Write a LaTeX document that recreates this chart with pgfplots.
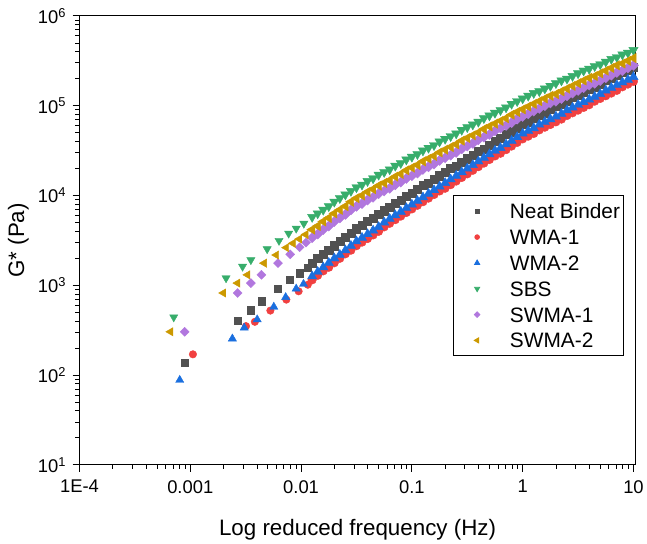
\documentclass[border=0pt]{standalone}
\usepackage{fontspec}
\setmainfont{Liberation Sans}
\usepackage{pgfplots}
\usepackage{pgfplotstable}
\pgfplotsset{compat=1.18}

\definecolor{cNeat}{HTML}{515151}
\definecolor{cWa}{HTML}{F14040}
\definecolor{cWb}{HTML}{1A6FDF}
\definecolor{cSbs}{HTML}{37AD6B}
\definecolor{cSa}{HTML}{B177DE}
\definecolor{cSb}{HTML}{CC9900}

% log10(reduced frequency, Hz) and log10(G*, Pa), dense part of the master curves
\pgfplotstableread{
lf     ne    wa    wb    sbs   sa    sb
-1.90  3.25  3.06  3.10  3.76  3.53  3.62
-1.85  3.30  3.11  3.15  3.80  3.57  3.66
-1.80  3.35  3.16  3.20  3.84  3.62  3.71
-1.75  3.39  3.20  3.25  3.88  3.66  3.75
-1.70  3.44  3.25  3.30  3.93  3.71  3.80
-1.65  3.49  3.30  3.34  3.97  3.75  3.84
-1.60  3.54  3.35  3.39  4.01  3.79  3.88
-1.55  3.58  3.39  3.44  4.05  3.84  3.93
-1.50  3.63  3.44  3.49  4.09  3.88  3.97
-1.45  3.67  3.48  3.53  4.12  3.91  4.00
-1.40  3.71  3.52  3.57  4.16  3.95  4.04
-1.35  3.75  3.56  3.61  4.19  3.98  4.07
-1.30  3.79  3.60  3.65  4.23  4.02  4.11
-1.25  3.83  3.65  3.70  4.26  4.05  4.14
-1.20  3.87  3.69  3.74  4.29  4.08  4.17
-1.15  3.91  3.73  3.78  4.33  4.12  4.21
-1.10  3.95  3.77  3.82  4.36  4.15  4.24
-1.05  3.99  3.81  3.86  4.40  4.19  4.28
-1.00  4.03  3.85  3.90  4.43  4.22  4.31
-0.95  4.07  3.89  3.94  4.46  4.25  4.34
-0.90  4.11  3.93  3.98  4.50  4.29  4.38
-0.85  4.14  3.97  4.02  4.53  4.32  4.41
-0.80  4.18  4.01  4.06  4.56  4.35  4.44
-0.75  4.22  4.05  4.10  4.60  4.39  4.48
-0.70  4.26  4.08  4.14  4.63  4.42  4.51
-0.65  4.30  4.12  4.18  4.66  4.45  4.54
-0.60  4.33  4.16  4.22  4.69  4.48  4.57
-0.55  4.37  4.20  4.26  4.73  4.52  4.61
-0.50  4.41  4.24  4.30  4.76  4.55  4.64
-0.45  4.45  4.28  4.34  4.79  4.58  4.67
-0.40  4.49  4.32  4.38  4.82  4.62  4.70
-0.35  4.52  4.36  4.42  4.86  4.65  4.74
-0.30  4.56  4.40  4.46  4.89  4.68  4.77
-0.25  4.60  4.44  4.50  4.92  4.72  4.80
-0.20  4.64  4.47  4.53  4.95  4.75  4.83
-0.15  4.68  4.51  4.57  4.98  4.78  4.86
-0.10  4.71  4.55  4.61  5.02  4.81  4.90
-0.05  4.75  4.59  4.65  5.05  4.85  4.93
 0.00  4.79  4.63  4.69  5.08  4.88  4.96
 0.05  4.82  4.66  4.72  5.11  4.91  4.99
 0.10  4.86  4.69  4.75  5.14  4.94  5.02
 0.15  4.89  4.73  4.79  5.16  4.97  5.05
 0.20  4.92  4.76  4.82  5.19  5.00  5.08
 0.25  4.96  4.79  4.85  5.22  5.03  5.11
 0.30  4.99  4.82  4.88  5.25  5.05  5.13
 0.35  5.02  4.85  4.91  5.28  5.08  5.16
 0.40  5.05  4.89  4.95  5.30  5.11  5.19
 0.45  5.09  4.92  4.98  5.33  5.14  5.22
 0.50  5.12  4.95  5.01  5.36  5.17  5.25
 0.55  5.15  4.98  5.04  5.39  5.20  5.28
 0.60  5.18  5.01  5.07  5.41  5.23  5.31
 0.65  5.21  5.05  5.10  5.44  5.25  5.33
 0.70  5.24  5.08  5.13  5.46  5.28  5.36
 0.75  5.28  5.11  5.17  5.49  5.31  5.39
 0.80  5.31  5.14  5.20  5.52  5.34  5.42
 0.85  5.34  5.17  5.23  5.54  5.37  5.45
 0.90  5.37  5.21  5.26  5.57  5.39  5.47
 0.95  5.40  5.24  5.29  5.59  5.42  5.50
 1.00  5.43  5.27  5.32  5.62  5.45  5.53
}\dense

\begin{document}
\begin{tikzpicture}
\begin{axis}[
  width=560pt, height=452pt, scale only axis,
  xmin=-4, xmax=1.02, ymin=1, ymax=6,
  axis line style={line width=1pt},
  tick align=outside, xtick pos=bottom, ytick pos=left,
  major tick length=7pt, minor tick length=4pt,
  tick style={line width=0.8pt, black},
  xtick={-4,...,1}, xticklabels={1E-4,0.001,0.01,0.1,1,10},
  ytick={1,...,6},
  yticklabels={10\textsuperscript{1},10\textsuperscript{2},10\textsuperscript{3},10\textsuperscript{4},10\textsuperscript{5},10\textsuperscript{6}},
  minor xtick={-3.699,-3.523,-3.398,-3.301,-3.222,-3.155,-3.097,-3.046,
               -2.699,-2.523,-2.398,-2.301,-2.222,-2.155,-2.097,-2.046,
               -1.699,-1.523,-1.398,-1.301,-1.222,-1.155,-1.097,-1.046,
               -0.699,-0.523,-0.398,-0.301,-0.222,-0.155,-0.097,-0.046,
               0.301,0.477,0.602,0.699,0.778,0.845,0.903,0.954},
  minor ytick={1.301,1.477,1.602,1.699,1.778,1.845,1.903,1.954,
               2.301,2.477,2.602,2.699,2.778,2.845,2.903,2.954,
               3.301,3.477,3.602,3.699,3.778,3.845,3.903,3.954,
               4.301,4.477,4.602,4.699,4.778,4.845,4.903,4.954,
               5.301,5.477,5.602,5.699,5.778,5.845,5.903,5.954},
  ticklabel style={font=\fontsize{18.5}{22}\selectfont},
  xticklabel style={yshift=-5pt},
  yticklabel style={xshift=-3pt},
  xlabel={Log reduced frequency (Hz)},
  ylabel={G* (Pa)},
  label style={font=\fontsize{22.5}{27}\selectfont},
  xlabel style={at={(axis description cs:0.5,-0.145)}, anchor=center},
  ylabel style={at={(axis description cs:-0.11,0.5)}, anchor=center},
  legend style={at={(rel axis cs:0.978,0.600)}, anchor=north east,
    draw=black, line width=0.8pt, font=\fontsize{21}{25}\selectfont,
    inner xsep=3pt, inner ysep=6pt, row sep=7pt,
    nodes={inner sep=0pt, text height=17pt, text depth=2pt}},
  legend cell align=left,
  legend image code/.code={\path[draw=none, fill=none] (0pt,0pt) -- (54pt,0pt);
    \draw[#1, only marks] plot coordinates {(21pt,0pt)};},
  legend image post style={every mark/.append style={scale=0.55}},
]
\coordinate (bl) at (rel axis cs:0,0);

\addplot[only marks, mark=square*, color=cNeat, mark size=3.6pt, forget plot] coordinates {
(-3.050,2.139) (-2.573,2.607) (-2.456,2.722) (-2.358,2.822) (-2.208,2.958)
(-2.103,3.061) (-2.013,3.135) (-1.939,3.198)};
\addplot[only marks, mark=square*, color=cNeat, mark size=4.1pt] table[x=lf,y=ne]{\dense};
\addlegendentry{Neat Binder}

\addplot[only marks, mark=*, color=cWa, mark size=3.8pt, forget plot] coordinates {
(-2.976,2.231) (-2.497,2.545) (-2.417,2.593) (-2.277,2.718) (-2.133,2.840)
(-2.022,2.933) (-1.939,3.006)};
\addplot[only marks, mark=*, color=cWa, mark size=4.3pt] table[x=lf,y=wa]{\dense};
\addlegendentry{WMA-1}

\addplot[only marks, mark=triangle*, color=cWb, mark size=4.8pt, forget plot] coordinates {
(-3.095,1.944) (-2.620,2.405) (-2.513,2.527) (-2.396,2.618) (-2.246,2.759)
(-2.139,2.866) (-2.044,2.961) (-1.978,3.013)};
\addplot[only marks, mark=triangle*, color=cWb, mark size=5.4pt] table[x=lf,y=wb]{\dense};
\addlegendentry{WMA-2}

\addplot[only marks, mark=triangle*, mark options={rotate=180}, color=cSbs, mark size=4.8pt, forget plot] coordinates {
(-3.149,2.645) (-2.677,3.080) (-2.528,3.209) (-2.453,3.282) (-2.306,3.404)
(-2.199,3.497) (-2.112,3.577) (-2.044,3.633) (-1.975,3.688)};
\addplot[only marks, mark=triangle*, mark options={rotate=180}, color=cSbs, mark size=5.4pt] table[x=lf,y=sbs]{\dense};
\addlegendentry{SBS}

\addplot[only marks, mark=square*, mark options={rotate=45}, color=cSa, mark size=3.2pt, forget plot] coordinates {
(-3.050,2.482) (-2.573,2.914) (-2.453,3.024) (-2.358,3.116) (-2.208,3.246)
(-2.098,3.345) (-2.013,3.423) (-1.955,3.475)};
\addplot[only marks, mark=square*, mark options={rotate=45}, color=cSa, mark size=3.6pt] table[x=lf,y=sa]{\dense};
\addlegendentry{SWMA-1}

\addplot[only marks, mark=triangle*, mark options={rotate=90}, color=cSb, mark size=4.8pt, forget plot] coordinates {
(-3.178,2.482) (-2.701,2.914) (-2.573,3.024) (-2.483,3.116) (-2.333,3.246)
(-2.223,3.337) (-2.133,3.419) (-2.073,3.467) (-2.015,3.515) (-1.958,3.565)};
\addplot[only marks, mark=triangle*, mark options={rotate=90}, color=cSb, mark size=5.4pt] table[x=lf,y=sb]{\dense};
\addlegendentry{SWMA-2}
\end{axis}
\path (bl) ++(-80pt,-76pt) rectangle ++(647pt,544pt);
\end{tikzpicture}
\end{document}
